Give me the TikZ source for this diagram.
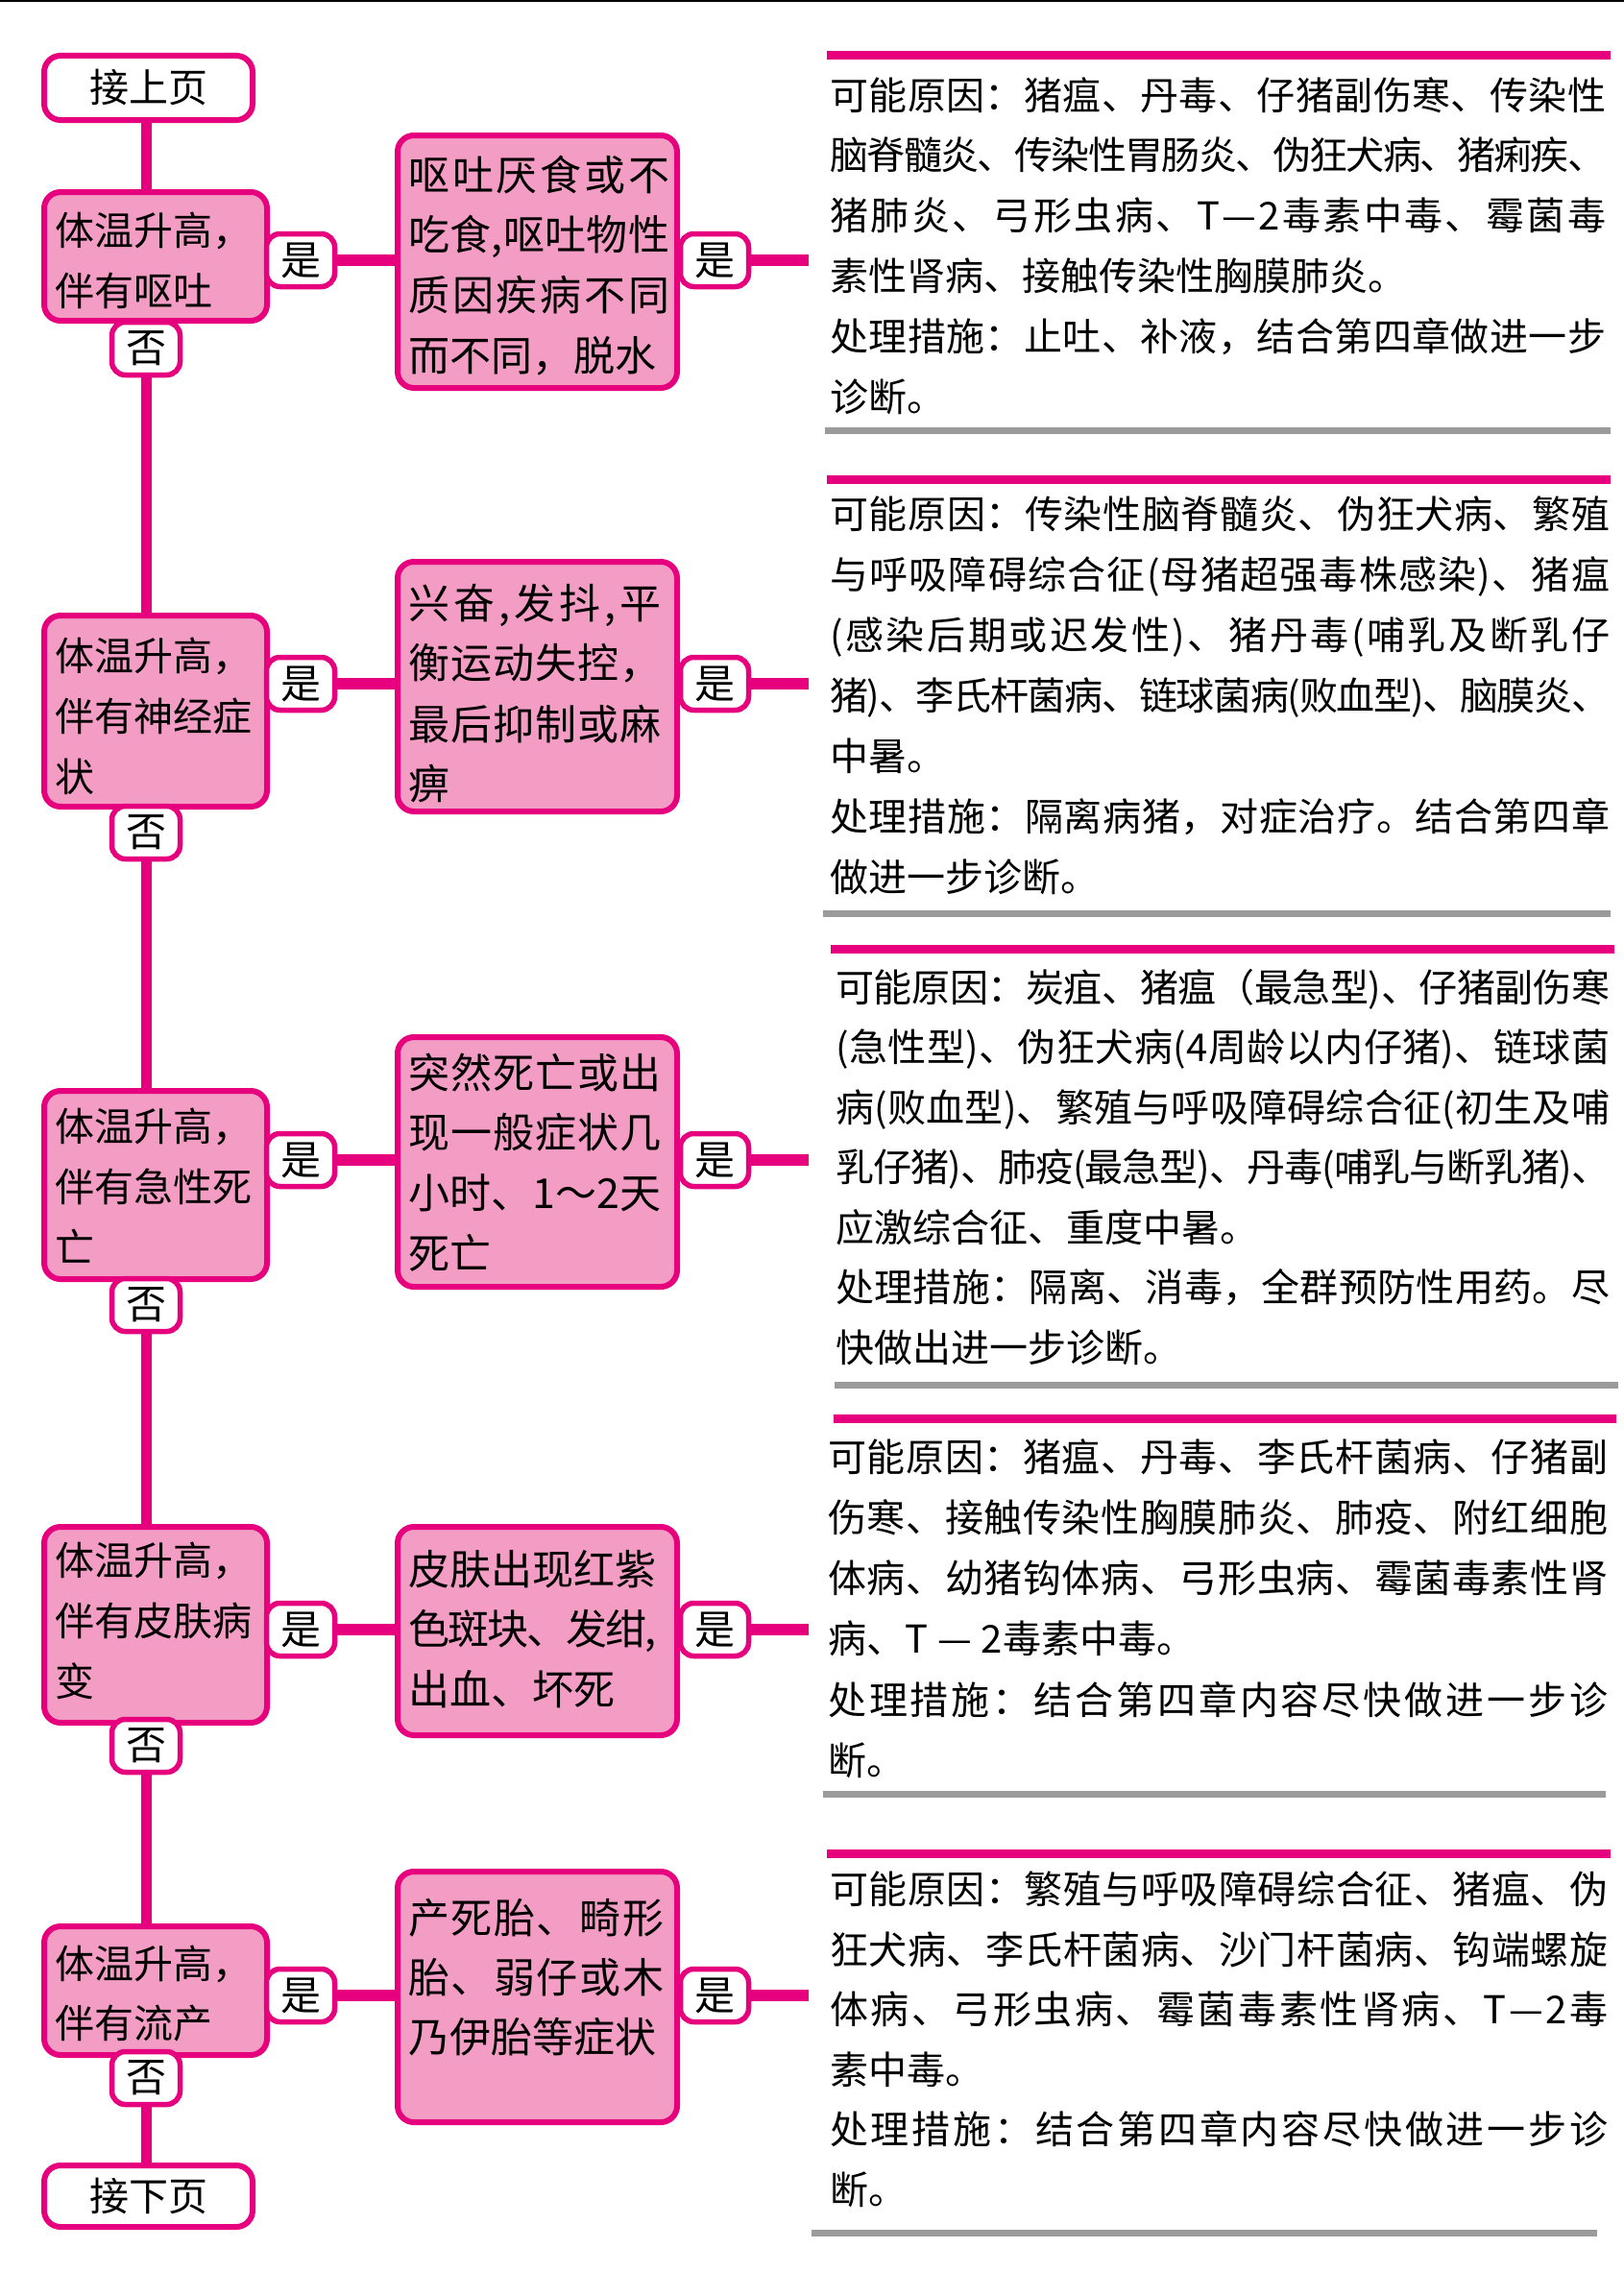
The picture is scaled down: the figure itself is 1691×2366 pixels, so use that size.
\documentclass[tikz,border=0pt]{standalone}
\usepackage{fontspec}
\setmainfont{Noto Sans CJK SC}
\definecolor{mag}{RGB}{230,0,126}
\definecolor{pk}{RGB}{243,156,196}
\definecolor{gbar}{RGB}{155,155,155}
\newcommand\sprd[2]{\hbox to #1{\sprdA#2\relax}}
\def\sprdA#1{#1\sprdB}
\def\sprdB#1{\ifx\relax#1\else\hskip 0pt plus 1fil minus 6pt\relax#1\expandafter\sprdB\fi}
\pgfdeclarelayer{bg}
\pgfsetlayers{bg,main}
\tikzset{
  bx/.style={draw=mag, fill=pk, line width=6pt, rounded corners=17pt, inner sep=0pt, minimum width=#1},
  bx/.default=232pt,
  wbx/.style={draw=mag, fill=white, line width=6pt, rounded corners=17pt, inner sep=0pt, minimum width=217pt, font=\fontsize{41}{48}\selectfont},
  lab/.style={draw=mag, fill=white, line width=5.5pt, rounded corners=14pt, minimum width=71pt, minimum height=55pt, inner sep=0pt, font=\fontsize{42}{48}\selectfont},
  spine/.style={draw=mag, line width=11pt},
  conn/.style={draw=mag, line width=11.5pt},
  txl/.style={anchor=base west, inner sep=0pt, font=\fontsize{41}{48}\selectfont},
  txm/.style={anchor=base west, inner sep=0pt, font=\fontsize{43}{52}\selectfont},
  txr/.style={anchor=base west, inner sep=0pt, font=\fontsize{40}{47}\selectfont},
  pbar/.style={draw=mag, line width=9pt},
  gline/.style={draw=gbar, line width=7pt},
}
\begin{document}
\begin{tikzpicture}[x=1pt,y=-1pt]
\useasboundingbox (0,0) rectangle (1691,2366);
\draw[line width=2pt] (0,1) -- (1691,1);

% start / end
\node[wbx, minimum height=67pt] (top) at (154.5,91.5) {接上页};
\node[wbx, minimum height=64pt] (bot) at (154.5,2287) {接下页};

% left boxes
\node[bx, minimum height=134pt] (L1) at (162,267) {};
\node[bx, minimum height=199pt] (L2) at (162,740.5) {};
\node[bx, minimum height=196pt] (L3) at (162,1234) {};
\node[bx, minimum height=204pt] (L4) at (162,1692) {};
\node[bx, minimum height=134pt] (L5) at (162,2073) {};

% middle boxes
\node[bx=291pt, minimum height=263pt] (M1) at (559.5,272.5) {};
\node[bx=291pt, minimum height=260pt] (M2) at (559.5,715) {};
\node[bx=291pt, minimum height=260pt] (M3) at (559.5,1210) {};
\node[bx=291pt, minimum height=217pt] (M4) at (559.5,1698.5) {};
\node[bx=291pt, minimum height=261pt] (M5) at (559.5,2079.5) {};

% labels
\node[lab] (ya1) at (313,271) {是};
\node[lab] (ya2) at (313,712) {是};
\node[lab] (ya3) at (313,1208) {是};
\node[lab] (ya4) at (313,1697) {是};
\node[lab] (ya5) at (313,2078) {是};
\node[lab] (yb1) at (744,271) {是};
\node[lab] (yb2) at (744,712) {是};
\node[lab] (yb3) at (744,1208) {是};
\node[lab] (yb4) at (744,1697) {是};
\node[lab] (yb5) at (744,2078) {是};
\node[lab] (no1) at (152,363) {否};
\node[lab] (no2) at (152,867) {否};
\node[lab] (no3) at (152,1359) {否};
\node[lab] (no4) at (152,1818) {否};
\node[lab] (no5) at (152,2164) {否};

\coordinate (e1) at (842,271);
\coordinate (e2) at (842,712);
\coordinate (e3) at (842,1208);
\coordinate (e4) at (842,1697);
\coordinate (e5) at (842,2078);

\begin{pgfonlayer}{bg}
\draw[spine] (no1.center |- top.south) -- (no1.center);
\draw[spine] (no1.center) -- (no1.center |- L2.north);
\draw[spine] (no2.center) -- (no2.center |- L3.north);
\draw[spine] (no3.center) -- (no3.center |- L4.north);
\draw[spine] (no4.center) -- (no4.center |- L5.north);
\draw[spine] (no5.center) -- (no5.center |- bot.north);
\foreach \i in {1,...,5}{
  \draw[conn] (ya\i.center) -- (ya\i.center -| M\i.west);
  \draw[conn] (yb\i.center) -- (e\i);
}
\end{pgfonlayer}

% left texts
\node[txl] (l1a) at (57,255) {体温升高，};
\node[txl] (l1b) at (57,318) {伴有呕吐};
\node[txl] (l2a) at (57,698) {体温升高，};
\node[txl] (l2b) at (57,761) {伴有神经症};
\node[txl] (l2c) at (57,824) {状};
\node[txl] (l3a) at (57,1188) {体温升高，};
\node[txl] (l3b) at (57,1251) {伴有急性死};
\node[txl] (l3c) at (57,1314) {亡};
\node[txl] (l4a) at (57,1640) {体温升高，};
\node[txl] (l4b) at (57,1703) {伴有皮肤病};
\node[txl] (l4c) at (57,1766) {变};
\node[txl] (l5a) at (57,2060) {体温升高，};
\node[txl] (l5b) at (57,2122) {伴有流产};

% middle texts
\node[txm] (m1a) at (425,198) {\sprd{272pt}{呕吐厌食或不}};
\node[txm] (m1b) at (425,260) {\sprd{272pt}{吃食,呕吐物性}};
\node[txm] (m1c) at (425,323) {\sprd{272pt}{质因疾病不同}};
\node[txm] (m1d) at (425,386) {而不同，脱水};
\node[txm] (m2a) at (425,644) {\sprd{263pt}{兴奋,发抖,平}};
\node[txm] (m2b) at (425,706) {\sprd{263pt}{衡运动失控，}};
\node[txm] (m2c) at (425,770) {\sprd{263pt}{最后抑制或麻}};
\node[txm] (m2d) at (425,832) {痹};
\node[txm] (m3a) at (425,1133) {\sprd{263pt}{突然死亡或出}};
\node[txm] (m3b) at (425,1195) {\sprd{263pt}{现一般症状几}};
\node[txm] (m3c) at (425,1258) {\sprd{263pt}{小时、1～2天}};
\node[txm] (m3d) at (425,1321) {死亡};
\node[txm] (m4a) at (425,1650) {\sprd{258pt}{皮肤出现红紫}};
\node[txm] (m4b) at (425,1712) {\sprd{258pt}{色斑块、发绀,}};
\node[txm] (m4c) at (425,1775) {出血、坏死};
\node[txm] (m5a) at (425,2013) {\sprd{266pt}{产死胎、畸形}};
\node[txm] (m5b) at (425,2075) {\sprd{266pt}{胎、弱仔或木}};
\node[txm] (m5c) at (425,2137) {乃伊胎等症状};

% right panel 1
\draw[pbar] (861,58) -- (1677,58);
\node[txr] (r1a) at (864,114) {\sprd{808pt}{可能原因：猪瘟、丹毒、仔猪副伤寒、传染性}};
\node[txr] (r1b) at (864,176.8) {\sprd{808pt}{脑脊髓炎、传染性胃肠炎、伪狂犬病、猪痢疾、}};
\node[txr] (r1c) at (864,239.6) {\sprd{808pt}{猪肺炎、弓形虫病、T—2毒素中毒、霉菌毒}};
\node[txr] (r1d) at (864,302.4) {素性肾病、接触传染性胸膜肺炎。};
\node[txr] (r1e) at (864,365.2) {\sprd{808pt}{处理措施：止吐、补液，结合第四章做进一步}};
\node[txr] (r1f) at (864,428) {诊断。};
\draw[gline] (859,448.5) -- (1677,448.5);

% right panel 2
\draw[pbar] (861,499) -- (1677,499);
\node[txr] (r2a) at (864,550) {\sprd{812pt}{可能原因：传染性脑脊髓炎、伪狂犬病、繁殖}};
\node[txr] (r2b) at (864,613) {\sprd{812pt}{与呼吸障碍综合征(母猪超强毒株感染)、猪瘟}};
\node[txr] (r2c) at (864,676) {\sprd{812pt}{(感染后期或迟发性)、猪丹毒(哺乳及断乳仔}};
\node[txr] (r2d) at (864,739) {\sprd{812pt}{猪)、李氏杆菌病、链球菌病(败血型)、脑膜炎、}};
\node[txr] (r2e) at (864,802) {中暑。};
\node[txr] (r2f) at (864,865) {\sprd{812pt}{处理措施：隔离病猪，对症治疗。结合第四章}};
\node[txr] (r2g) at (864,928) {做进一步诊断。};
\draw[gline] (857,951) -- (1677,951);

% right panel 3
\draw[pbar] (865,988.5) -- (1681,988.5);
\node[txr] (r3a) at (870,1043) {\sprd{806pt}{可能原因：炭疽、猪瘟（最急型)、仔猪副伤寒}};
\node[txr] (r3b) at (870,1105.5) {\sprd{806pt}{(急性型)、伪狂犬病(4周龄以内仔猪)、链球菌}};
\node[txr] (r3c) at (870,1168) {\sprd{806pt}{病(败血型)、繁殖与呼吸障碍综合征(初生及哺}};
\node[txr] (r3d) at (870,1230.5) {\sprd{806pt}{乳仔猪)、肺疫(最急型)、丹毒(哺乳与断乳猪)、}};
\node[txr] (r3e) at (870,1293) {应激综合征、重度中暑。};
\node[txr] (r3f) at (870,1355.5) {\sprd{806pt}{处理措施：隔离、消毒，全群预防性用药。尽}};
\node[txr] (r3g) at (870,1418) {快做出进一步诊断。};
\draw[gline] (869,1442.5) -- (1685,1442.5);

% right panel 4
\draw[pbar] (868,1477) -- (1683,1477);
\node[txr] (r4a) at (862,1532) {\sprd{812pt}{可能原因：猪瘟、丹毒、李氏杆菌病、仔猪副}};
\node[txr] (r4b) at (862,1595) {\sprd{812pt}{伤寒、接触传染性胸膜肺炎、肺疫、附红细胞}};
\node[txr] (r4c) at (862,1658) {\sprd{812pt}{体病、幼猪钩体病、弓形虫病、霉菌毒素性肾}};
\node[txr] (r4d) at (862,1721) {病、T\hspace{10pt}—\hspace{10pt}2毒素中毒。};
\node[txr] (r4e) at (862,1785) {\sprd{812pt}{处理措施：结合第四章内容尽快做进一步诊}};
\node[txr] (r4f) at (862,1848) {断。};
\draw[gline] (857,1868) -- (1672,1868);

% right panel 5
\draw[pbar] (861,1930) -- (1677,1930);
\node[txr] (r5a) at (864,1982) {\sprd{810pt}{可能原因：繁殖与呼吸障碍综合征、猪瘟、伪}};
\node[txr] (r5b) at (864,2045) {\sprd{810pt}{狂犬病、李氏杆菌病、沙门杆菌病、钩端螺旋}};
\node[txr] (r5c) at (864,2107) {\sprd{810pt}{体病、弓形虫病、霉菌毒素性肾病、T—2毒}};
\node[txr] (r5d) at (864,2170) {素中毒。};
\node[txr] (r5e) at (864,2232) {\sprd{810pt}{处理措施：结合第四章内容尽快做进一步诊}};
\node[txr] (r5f) at (864,2295) {断。};
\draw[gline] (845,2325.5) -- (1663,2325.5);
\end{tikzpicture}
\end{document}
